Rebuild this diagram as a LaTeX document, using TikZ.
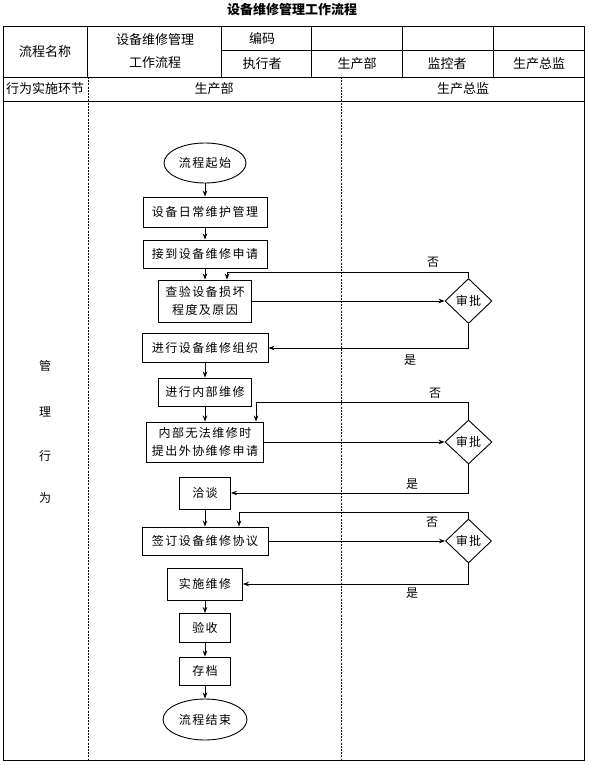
\documentclass[tikz,border=0pt]{standalone}
\usepackage{fontspec}
\setmainfont{Noto Sans CJK SC}
\usetikzlibrary{shapes.geometric,arrows.meta}
\begin{document}
\begin{tikzpicture}[x=1pt,y=-1pt,
  tline/.style={line width=0.7pt,black},
  dline/.style={line width=0.6pt,black,dash pattern=on 2pt off 1.2pt},
  htext/.style={inner sep=0pt,font=\fontsize{13}{15}\selectfont},
  box/.style={draw,line width=0.9pt,rectangle,inner sep=0pt,align=center,
    font=\fontsize{12}{18}\selectfont\addfontfeatures{LetterSpace=12}},
  oval/.style={draw,line width=0.9pt,ellipse,inner sep=0pt,
    font=\fontsize{12}{14}\selectfont\addfontfeatures{LetterSpace=12}},
  dia/.style={draw,line width=0.9pt,diamond,inner sep=0pt,
    font=\fontsize{12}{14}\selectfont\addfontfeatures{LetterSpace=12}},
  arr/.style={line width=0.8pt,-{Stealth[length=6pt,width=4.5pt]}},
  lbl/.style={inner sep=0pt,font=\fontsize{12}{14}\selectfont}
]
\useasboundingbox (0,0) rectangle (590,765);
% title
\node[inner sep=0pt,font=\fontsize{13}{15}\selectfont\bfseries] (title) at (292,10) {设备维修管理工作流程};
% table frame
\draw[line width=0.9pt] (3,26) rectangle (584,760);
\draw[tline] (3,77) -- (584,77);
\draw[tline] (3,101) -- (584,101);
\draw[tline] (221,50) -- (584,50);
\foreach \xx in {87.5,221,311.5,402,493} \draw[tline] (\xx,26) -- (\xx,77);
\draw[dline] (88,77) -- (88,760);
\draw[dline] (341,77) -- (341,760);
% header texts
\node[htext] (h1) at (45,52) {流程名称};
\node[htext] (h2) at (155,40) {设备维修管理};
\node[htext] (h3) at (155,63) {工作流程};
\node[htext] (h4) at (262,38) {编码};
\node[htext] (h5) at (262,64) {执行者};
\node[htext] (h6) at (357,64) {生产部};
\node[htext] (h7) at (447,64) {监控者};
\node[htext] (h8) at (539,64) {生产总监};
\node[htext] (r1) at (45,89) {行为实施环节};
\node[htext] (r2) at (214,89) {生产部};
\node[htext] (r3) at (463,89) {生产总监};
% left labels
\node[lbl] (g1) at (45,366) {管};
\node[lbl] (g2) at (45,412) {理};
\node[lbl] (g3) at (45,456) {行};
\node[lbl] (g4) at (45,498) {为};
% flow nodes
\node[oval,minimum width=82pt,minimum height=40pt] (s) at (205,163) {流程起始};
\node[box,minimum width=124pt,minimum height=30pt] (n1) at (205,212) {设备日常维护管理};
\node[box,minimum width=124pt,minimum height=28pt] (n2) at (205,254) {接到设备维修申请};
\node[box,minimum width=93pt,minimum height=42pt] (n3) at (205,301) {查验设备损坏\\程度及原因};
\node[box,minimum width=126pt,minimum height=29pt] (n4) at (205,348) {进行设备维修组织};
\node[box,minimum width=93pt,minimum height=28pt] (n5) at (205,392) {进行内部维修};
\node[box,minimum width=117pt,minimum height=40pt] (n6) at (205,442) {内部无法维修时\\提出外协维修申请};
\node[box,minimum width=51pt,minimum height=32pt] (n7) at (205,493) {洽谈};
\node[box,minimum width=126pt,minimum height=28pt] (n8) at (205,541) {签订设备维修协议};
\node[box,minimum width=75pt,minimum height=32pt] (n9) at (205,584) {实施维修};
\node[box,minimum width=51pt,minimum height=29pt] (n10) at (205,628) {验收};
\node[box,minimum width=51pt,minimum height=28pt] (n11) at (205,671) {存档};
\node[oval,minimum width=84pt,minimum height=41pt] (e) at (205,719.5) {流程结束};
% diamonds
\node[dia,minimum width=47pt,minimum height=45pt] (d1) at (468.5,301) {审批};
\node[dia,minimum width=47pt,minimum height=44pt] (d2) at (468.5,442) {审批};
\node[dia,minimum width=46pt,minimum height=44pt] (d3) at (468.5,541) {审批};
% main arrows
\draw[arr] (s) -- (n1);
\draw[arr] (n1) -- (n2);
\draw[arr] (n2) -- (n3);
\draw[arr] (n4) -- (n5);
\draw[arr] (n5) -- (n6);
\draw[arr] (n7) -- (n8);
\draw[arr] (n9) -- (n10);
\draw[arr] (n10) -- (n11);
\draw[arr] (n11) -- (e);
% approval loops
\draw[arr] (n3.east) -- (d1.west);
\coordinate (f1) at (227,272);
\draw[arr] (d1.north) |- (f1) -- (f1 |- n3.north);
\draw[arr] (d1.south) |- (n4.east);
\node[lbl] (no1) at (433,262) {否};
\node[lbl] (yes1) at (410,360) {是};

\draw[arr] (n6.east) -- (d2.west);
\coordinate (f2) at (256,402);
\draw[arr] (d2.north) |- (f2) -- (f2 |- n6.north);
\draw[arr] (d2.south) |- (n7.east);
\node[lbl] (no2) at (435,393) {否};
\node[lbl] (yes2) at (412,484) {是};

\draw[arr] (n8.east) -- (d3.west);
\coordinate (f3) at (239,512);
\draw[arr] (d3.north) |- (f3) -- (f3 |- n8.north);
\draw[arr] (d3.south) |- (n9.east);
\node[lbl] (no3) at (432,522) {否};
\node[lbl] (yes3) at (412,593) {是};
\end{tikzpicture}
\end{document}
